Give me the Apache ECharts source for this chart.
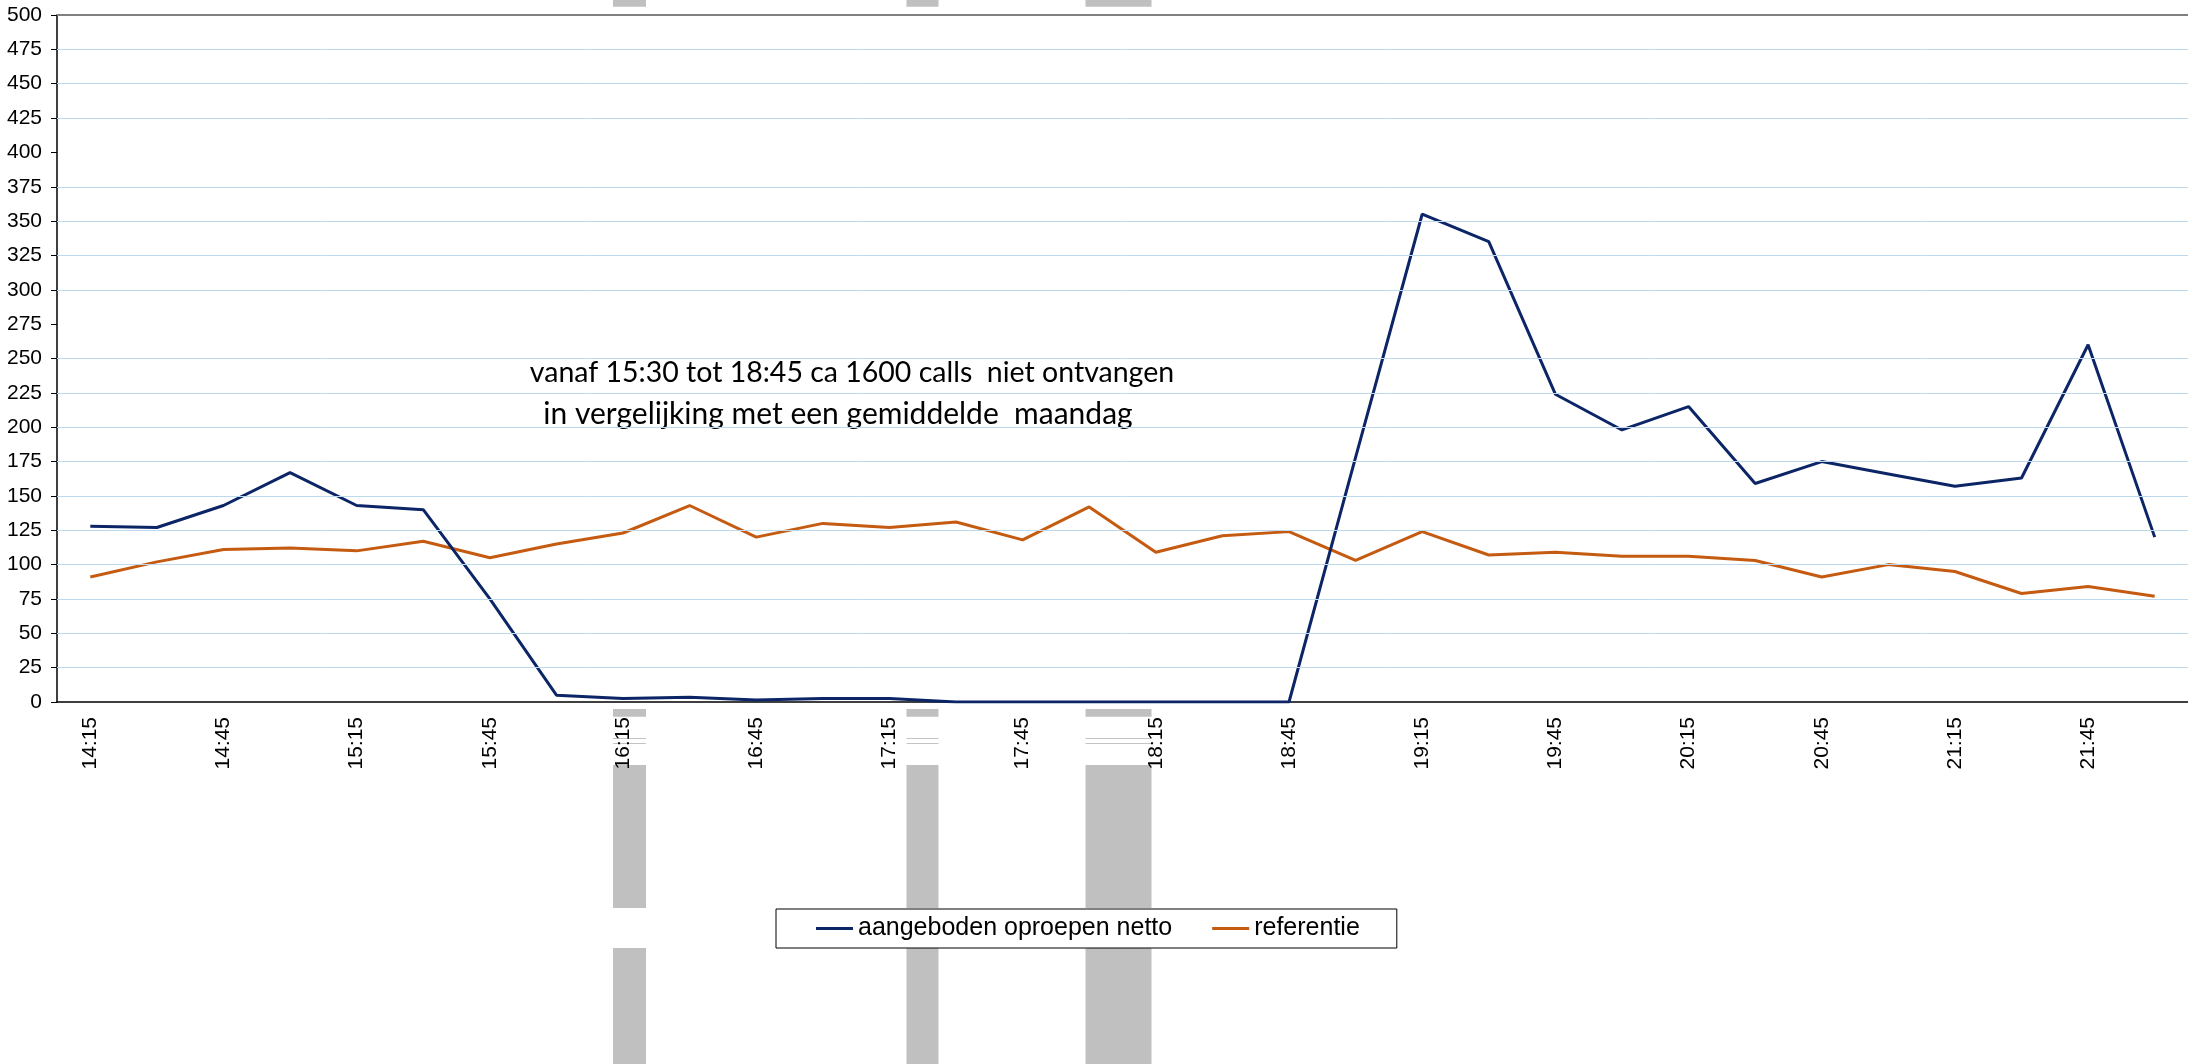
<!DOCTYPE html>
<html>
<head>
<meta charset="utf-8">
<script src="https://cdn.jsdelivr.net/npm/echarts@6/dist/echarts.min.js"></script>
<style>
  html, body { margin: 0; padding: 0; background: #fff; }
  #chart { width: 2188px; height: 1064px; }
</style>
</head>
<body>
<div id="chart"></div>
<script>
// tijdstippen per kwartier
const tijden = ['14:15', '14:30', '14:45', '15:00', '15:15', '15:30', '15:45', '16:00',
  '16:15', '16:30', '16:45', '17:00', '17:15', '17:30', '17:45', '18:00',
  '18:15', '18:30', '18:45', '19:00', '19:15', '19:30', '19:45', '20:00',
  '20:15', '20:30', '20:45', '21:00', '21:15', '21:30', '21:45', '22:00'];

const aangeboden = [128, 127, 143, 167, 143, 140, 75, 5, 2.5, 3.5, 1.5, 2.5, 2.5, 0, 0, 0,
  0, 0, 0, 178, 355, 335, 224, 198, 215, 159, 175, 166, 157, 163, 260, 120];

const referentie = [91, 102, 111, 112, 110, 117, 105, 115, 123, 143, 120, 130, 127, 131, 118, 142,
  109, 121, 124, 103, 124, 107, 109, 106, 106, 103, 91, 100, 95, 79, 84, 77];

// rasterlijnen (275 en 400 ontbreken in het origineel)
const rasterlijnen = [25, 50, 75, 100, 125, 150, 175, 200, 225, 250, 300, 325, 350, 375, 425, 450, 475];

const blauw = '#0b2566';
const oranje = '#c55a11';
const labelFont = 'Liberation Sans';

// grijze vlakken uit de schermafdruk
const grijsKolommen = [[613, 33], [906.5, 32], [1085.5, 66]];
const grijsRijen = [[0, 6.7], [709, 7.7], [765, 143], [948, 116]];
const grijs = [];
grijsKolommen.forEach(([x, w]) => {
  grijsRijen.forEach(([y, h]) => {
    grijs.push({ type: 'rect', silent: true, z: -10, shape: { x, y, width: w, height: h }, style: { fill: '#c0c0c0' } });
  });
  [738, 743].forEach(y => {
    grijs.push({ type: 'rect', silent: true, z: -10, shape: { x, y, width: w, height: 1 }, style: { fill: '#c4c4c4' } });
  });
});

const myChart = echarts.init(document.getElementById('chart'));

const option = {
  animation: false,
  grid: { left: 57, right: 0, top: 15, bottom: 362 },
  xAxis: {
    type: 'category',
    data: tijden,
    boundaryGap: true,
    axisLine: { lineStyle: { color: '#000', width: 1.5 } },
    axisTick: { inside: true, length: 7, interval: 0, lineStyle: { color: '#000' } },
    axisLabel: { interval: 1, rotate: 90, margin: 15, fontFamily: labelFont, fontSize: 21, color: '#000' },
    splitLine: { show: false }
  },
  yAxis: {
    type: 'value',
    min: 0,
    max: 500,
    interval: 25,
    axisLine: { show: true, lineStyle: { color: '#000', width: 1.5 } },
    axisTick: { show: true, length: 6, lineStyle: { color: '#000' } },
    axisLabel: { margin: 15, fontFamily: labelFont, fontSize: 21, color: '#000' },
    splitLine: { show: false }
  },
  legend: {
    left: 776,
    top: 909,
    data: ['aangeboden oproepen netto', 'referentie'],
    icon: 'rect',
    itemWidth: 37,
    itemHeight: 3,
    itemGap: 40,
    selectedMode: false,
    borderColor: '#000',
    borderWidth: 1,
    borderRadius: 0,
    padding: [7, 37, 7, 40],
    textStyle: { fontFamily: labelFont, fontSize: 25, color: '#000' }
  },
  graphic: grijs.concat([
    {
      type: 'text', x: 852, y: 373, silent: true,
      style: { text: 'vanaf 15:30 tot 18:45 ca 1600 calls  niet ontvangen', font: '28.5px Lato', fill: '#000', align: 'center', verticalAlign: 'middle' }
    },
    {
      type: 'text', x: 838, y: 414, silent: true,
      style: { text: 'in vergelijking met een gemiddelde  maandag', font: '30px Lato', fill: '#000', align: 'center', verticalAlign: 'middle' }
    }
  ]),
  series: [
    {
      // alleen voor de rasterlijnen
      type: 'line',
      data: [],
      silent: true,
      z: 1,
      markLine: {
        silent: true,
        animation: false,
        symbol: ['none', 'none'],
        label: { show: false },
        lineStyle: { color: '#bcd9ee', width: 1, type: 'solid' },
        emphasis: { disabled: true },
        data: rasterlijnen.map(v => ({ yAxis: v }))
          .concat([{ yAxis: 500, lineStyle: { color: '#808080', width: 2, type: 'solid' } }])
      }
    },
    {
      name: 'aangeboden oproepen netto',
      type: 'line',
      data: aangeboden,
      symbol: 'none',
      z: 3,
      lineStyle: { color: blauw, width: 3 },
      itemStyle: { color: blauw }
    },
    {
      name: 'referentie',
      type: 'line',
      data: referentie,
      symbol: 'none',
      z: 2,
      lineStyle: { color: oranje, width: 3 },
      itemStyle: { color: oranje }
    }
  ]
};

myChart.setOption(option);
window.addEventListener('resize', () => myChart.resize());
</script>
</body>
</html>
